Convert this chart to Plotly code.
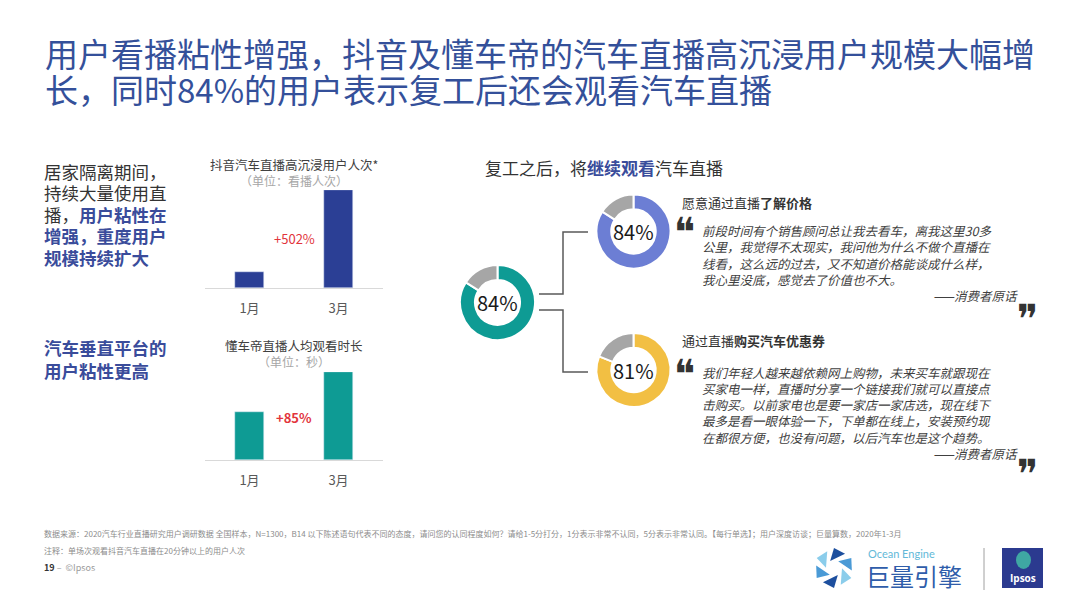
"""
Ipsos slide: 汽车直播用户粘性 - bars for platform stickiness plus donuts for post-return intent
"""

import math
import plotly.graph_objects as go

W, H = 1080, 608
FONT = "Noto Sans CJK SC"
BLUE_TXT = "#3A4C9B"
TITLE_BLUE = "#34509A"

# ---- data ----
title_lines = [
    "用户看播粘性增强，抖音及懂车帝的汽车直播高沉浸用户规模大幅增",
    "长，同时84%的用户表示复工后还会观看汽车直播",
]

months = ["1月", "3月"]
douyin_sessions = [1.0, 6.02]      # 高沉浸用户人次, indexed to Jan = 1
douyin_growth = "+502%"
dcd_watch_time = [1.0, 1.85]       # 人均观看时长, indexed to Jan = 1
dcd_growth = "+85%"

donut_labels = ["会", "不会"]
continue_watch = [84, 16]
learn_price = [84, 16]
buy_coupon = [81, 19]

quote_price = [
    "前段时间有个销售顾问总让我去看车，离我这里30多",
    "公里，我觉得不太现实，我问他为什么不做个直播在",
    "线看，这么远的过去，又不知道价格能谈成什么样，",
    "我心里没底，感觉去了价值也不大。",
]
quote_coupon = [
    "我们年轻人越来越依赖网上购物，未来买车就跟现在",
    "买家电一样，直播时分享一个链接我们就可以直接点",
    "击购买。以前家电也是要一家店一家店选，现在线下",
    "最多是看一眼体验一下，下单都在线上，安装预约现",
    "在都很方便，也没有问题，以后汽车也是这个趋势。",
]

footer_source = ("数据来源：2020汽车行业直播研究用户调研数据 全国样本，N=1300，B14 以下陈述语句代表不同的态度，"
                 "请问您的认同程度如何？请给1-5分打分，1分表示非常不认同，5分表示非常认同。【每行单选】；"
                 "用户深度访谈；巨量算数，2020年1-3月")
footer_note = "注释：单场次观看抖音汽车直播在20分钟以上的用户人次"


def px(x):
    return x / W


def py(y):
    return 1 - y / H


def blue(s, bold=True):
    s = f"<b>{s}</b>" if bold else s
    return f"<span style='color:{BLUE_TXT}'>{s}</span>"


fig = go.Figure()

# ---- bar charts ----
fig.add_trace(go.Bar(
    x=months, y=douyin_sessions, width=0.32,
    marker=dict(color="#2B3F95"), xaxis="x", yaxis="y",
    showlegend=False, hoverinfo="skip"
))
fig.add_trace(go.Bar(
    x=months, y=dcd_watch_time, width=0.32,
    marker=dict(color="#0E9B94"), xaxis="x2", yaxis="y2",
    showlegend=False, hoverinfo="skip"
))

# ---- donuts ----
def donut(values, color, cx, cy, r):
    return go.Pie(
        labels=donut_labels, values=values, hole=0.6, sort=False,
        direction="clockwise", rotation=0, textinfo="none",
        marker=dict(colors=[color, "#A6A6A6"], line=dict(color="white", width=2)),
        domain=dict(x=[px(cx - r), px(cx + r)], y=[py(cy + r), py(cy - r)]),
        showlegend=False, hoverinfo="skip"
    )


fig.add_trace(donut(continue_watch, "#0E9B94", 497.5, 302.5, 37.5))
fig.add_trace(donut(learn_price, "#6C7ED4", 633.5, 231.5, 37))
fig.add_trace(donut(buy_coupon, "#F2BF43", 633.5, 370, 37))

axis_common = dict(showline=True, linecolor="#D9D9D9", linewidth=1, showgrid=False,
                   zeroline=False, ticks="", ticklabelstandoff=8, fixedrange=True,
                   range=[-0.5, 1.5], tickfont=dict(size=13, color="#595959", family=FONT))

fig.update_layout(
    width=W, height=H,
    margin=dict(l=0, r=0, t=0, b=0),
    paper_bgcolor="white", plot_bgcolor="white",
    font=dict(family=FONT, color="#333333"),
    bargap=0,
    xaxis=dict(domain=[px(205), px(383)], anchor="y", **axis_common),
    yaxis=dict(domain=[py(288), py(190)], anchor="x", range=[0, douyin_sessions[1]], visible=False),
    xaxis2=dict(domain=[px(205), px(383)], anchor="y2", **axis_common),
    yaxis2=dict(domain=[py(460), py(372)], anchor="x2", range=[0, dcd_watch_time[1]], visible=False),
)

ann = []


def text(x, y, s, size, color="#333333", xanchor="left", family=FONT):
    ann.append(dict(x=px(x), y=py(y), xref="paper", yref="paper", text=s, showarrow=False,
                    xanchor=xanchor, yanchor="middle", align=xanchor if xanchor != "center" else "center",
                    font=dict(size=size, color=color, family=family)))


# title
text(43, 53, title_lines[0], 33, TITLE_BLUE)
text(43, 89, title_lines[1], 33, TITLE_BLUE)

# left narrative
left_lines = [
    "居家隔离期间，",
    "持续大量使用直",
    "播，" + blue("用户粘性在"),
    blue("增强，重度用户"),
    blue("规模持续扩大"),
]
for i, s in enumerate(left_lines):
    text(42, 171 + i * 21.5, s, 17.5, "#333333")
text(42, 348, blue("汽车垂直平台的"), 17.5)
text(42, 370, blue("用户粘性更高"), 17.5)

# bar chart titles
text(294, 164, "抖音汽车直播高沉浸用户人次*", 12.5, "#404040", "center")
text(294, 180, "（单位：看播人次）", 12, "#A6A6A6", "center")
text(294, 345, "懂车帝直播人均观看时长", 12.5, "#404040", "center")
text(294, 361, "（单位：秒）", 12, "#A6A6A6", "center")

# growth labels anchored to bar axes
ann.append(dict(x=0.5, y=3.07, xref="x", yref="y", text=douyin_growth, showarrow=False,
                font=dict(size=13, color="#E2343C", family=FONT)))
ann.append(dict(x=0.5, y=0.9, xref="x2", yref="y2", text=f"<b>{dcd_growth}</b>", showarrow=False,
                font=dict(size=13, color="#E2343C", family=FONT)))

# donut centres
text(497.5, 302.5, f"{continue_watch[0]}%", 20, "#1A1A1A", "center")
text(633.5, 231.5, f"{learn_price[0]}%", 20, "#1A1A1A", "center")
text(633.5, 370, f"{buy_coupon[0]}%", 20, "#1A1A1A", "center")

text(483, 167, "复工之后，将" + blue("继续观看") + "汽车直播", 17, "#333333")

# quote blocks
text(680, 202, "愿意通过直播<b>了解价格</b>", 13, "#333333")
text(680, 340, "通过直播<b>购买汽车优惠券</b>", 13, "#333333")
for i, s in enumerate(quote_price):
    text(700, 230 + i * 16.5, f"<i>{s}</i>", 12.5, "#404040")
for i, s in enumerate(quote_coupon):
    text(700, 372 + i * 16.3, f"<i>{s}</i>", 12.5, "#404040")
text(1020, 295, "<i>——消费者原话</i>", 12.5, "#404040", "right")
text(1020, 453, "<i>——消费者原话</i>", 12.5, "#404040", "right")
for y_open, y_close in [(232, 319), (374, 474)]:
    text(685, y_open, "❝", 40, "#333333", "center", "DejaVu Sans")
    text(1028, y_close, "❞", 40, "#333333", "center", "DejaVu Sans")

# footer
text(42, 533, footer_source, 8, "#8C8C8C")
text(42, 550, footer_note, 8, "#8C8C8C")
text(42, 567, "<b>19</b> <span style='color:#9A9A9A'>–  ©Ipsos</span>", 9, "#333333")

# logos
text(866, 553, "Ocean Engine", 11, "#62B9D8", family="Lato")
text(864, 575, "巨量引擎", 24, "#2F5DAA")
text(1023, 578, "<b>Ipsos</b>", 10, "white", "center", "Open Sans")

fig.update_layout(annotations=ann)

shapes = []
line_style = dict(color="#595959", width=1.5)
for pts in [[(539, 294), (563, 294), (563, 232), (588, 232)],
            [(539, 310), (563, 310), (563, 372), (588, 372)]]:
    path = "M " + " L ".join(f"{px(x)},{py(y)}" for x, y in pts)
    shapes.append(dict(type="path", path=path, xref="paper", yref="paper", line=line_style))

# pinwheel mark
cx, cy = 834, 568
blade_colors = ["#1D4F9E", "#4A9AD6", "#8BCDEB", "#1D4F9E", "#4A9AD6", "#8BCDEB"]
for k in range(6):
    a = math.radians(90 - k * 60)
    b = a - math.radians(38)
    p1 = (cx + 8 * math.cos(a + 0.5), cy - 8 * math.sin(a + 0.5))
    p2 = (cx + 20 * math.cos(a), cy - 20 * math.sin(a))
    p3 = (cx + 18 * math.cos(b), cy - 18 * math.sin(b))
    path = f"M {px(p1[0])},{py(p1[1])} L {px(p2[0])},{py(p2[1])} L {px(p3[0])},{py(p3[1])} Z"
    shapes.append(dict(type="path", path=path, xref="paper", yref="paper",
                       fillcolor=blade_colors[k], line=dict(width=0)))

shapes.append(dict(type="line", xref="paper", yref="paper", x0=px(984), x1=px(984),
                   y0=py(548), y1=py(590), line=dict(color="#A0A0A0", width=1)))
shapes.append(dict(type="rect", xref="paper", yref="paper", x0=px(1002), x1=px(1043),
                   y0=py(588), y1=py(548), fillcolor="#2B3A8F", line=dict(width=0)))
shapes.append(dict(type="circle", xref="paper", yref="paper", x0=px(1016), x1=px(1031),
                   y0=py(569), y1=py(551), fillcolor="#3FA7A3", line=dict(width=0)))
fig.update_layout(shapes=shapes)

# drop the default 8px body margin so the 1080x608 figure fills the window exactly
fig.write_html("out.html", config={"displayModeBar": False},
               post_script="document.body.style.margin='0';")
